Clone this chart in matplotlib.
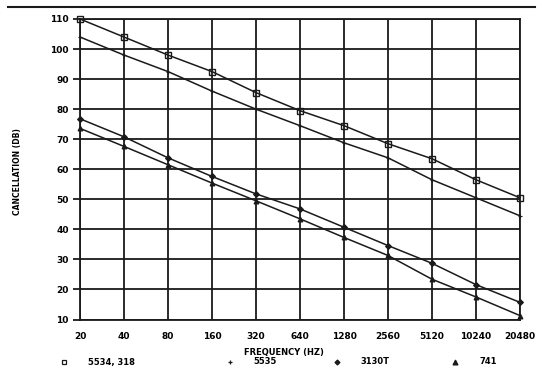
import matplotlib
matplotlib.use("Agg")
import matplotlib.pyplot as plt
from matplotlib.lines import Line2D

freqs = ["20", "40", "80", "160", "320", "640", "1280", "2560", "5120", "10240", "20480"]
s5534 = [110, 104, 98, 92.5, 85.5, 79.5, 74.5, 68.5, 63.5, 56.5, 50.5]
s5535 = [104, 98, 92.5, 86, 80, 74.5, 68.8, 63.8, 56.5, 50.5, 44.5]
s3130 = [76.8, 70.8, 63.8, 57.6, 51.8, 46.8, 40.7, 34.6, 28.7, 21.6, 15.7]
s741 = [73.6, 67.6, 61.5, 55.4, 49.5, 43.5, 37.3, 31.3, 23.4, 17.5, 11.3]
yticks = [10, 20, 30, 40, 50, 60, 70, 80, 90, 100, 110]
names = ["5534, 318", "5535", "3130T", "741"]

plt.rcParams['font.family'] = ['DejaVu Sans']
fig = plt.figure(figsize=(5.46, 3.73), dpi=100)
W, H = 546, 373
ax = fig.add_axes([80 / W, 1 - 319.5 / H, (520 - 80) / W, (319.5 - 19) / H])

x = list(range(len(freqs)))
c = '#1a1a1a'
kw = dict(color=c, lw=1.1, clip_on=False, zorder=3)
ax.plot(x, s5534, marker='s', ms=4, mfc='none', mew=1.0, **kw)
ax.plot(x, s5535, marker='+', ms=3, mew=0.8, **kw)
ax.plot(x, s3130, marker='D', ms=3, mfc=c, mew=0.8, **kw)
ax.plot(x, s741, marker='^', ms=3.5, mfc=c, mew=0.8, **kw)

ax.set_xlim(0, len(freqs) - 1)
ax.set_ylim(10, 110)
ax.set_xticks(x)
ax.set_xticklabels(freqs, fontsize=6.5, fontweight='bold')
ax.set_yticks(yticks)
ax.set_yticklabels([str(v) for v in yticks], fontsize=6.5, fontweight='bold')
ax.grid(True, color=c, lw=1.3)
ax.tick_params(axis='y', length=5, width=1.3, color=c, pad=3)
ax.tick_params(axis='x', length=0, pad=9)
for s in ax.spines.values():
    s.set_color(c)
    s.set_linewidth(1.3)

# top rule
fig.add_artist(Line2D([8 / W, 535 / W], [1 - 7.3 / H, 1 - 7.3 / H], color=c, lw=1.5))

fig.text(18 / W, 1 - 172 / H, "CANCELLATION (DB)", rotation=90, ha='center', va='center',
         fontsize=5.5, fontweight='bold')
fig.text(284 / W, 1 - 353 / H, "FREQUENCY (HZ)", ha='center', va='center',
         fontsize=6, fontweight='bold')

# legend row
ly = 1 - 362 / H
markers = [('s', 'none'), ('+', c), ('D', c), ('^', c)]
mx = [64, 230, 337, 455]
tx = [88, 253, 360, 479]
for (m, fc), xm, xt, n in zip(markers, mx, tx, names):
    fig.add_artist(Line2D([xm / W], [ly], marker=m, ms=3.5 if m != 'D' else 2.5,
                          mfc=fc, mec=c, mew=0.9, color=c, lw=0))
    fig.text(xt / W, ly, n, ha='left', va='center', fontsize=6, fontweight='bold')

fig.savefig("out.png", dpi=100)
